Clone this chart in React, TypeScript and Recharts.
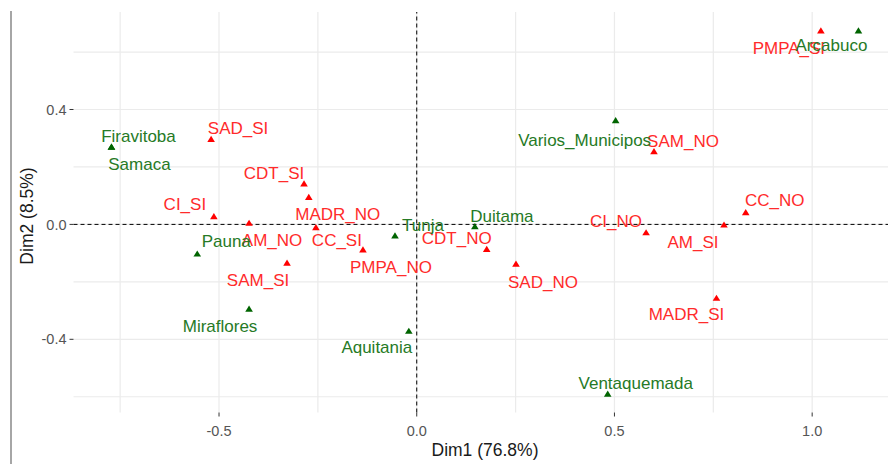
import { ScatterChart, Scatter, XAxis, YAxis, CartesianGrid, ReferenceLine } from 'recharts';

// column categories (red)
const colNames = ['SAD_SI', 'CDT_SI', 'MADR_NO', 'CI_SI', 'AM_NO', 'CC_SI', 'PMPA_NO', 'SAM_SI', 'CDT_NO', 'SAD_NO', 'CI_NO', 'AM_SI', 'CC_NO', 'MADR_SI', 'SAM_NO', 'PMPA_SI'];
const colDim1 = [-0.52, -0.285, -0.273, -0.513, -0.424, -0.255, -0.136, -0.328, 0.177, 0.251, 0.58, 0.777, 0.832, 0.758, 0.6, 1.022];
const colDim2 = [0.296, 0.141, 0.094, 0.027, 0.004, -0.011, -0.089, -0.135, -0.087, -0.138, -0.029, -0.002, 0.041, -0.257, 0.253, 0.674];

// row categories (green)
const rowNames = ['Firavitoba', 'Samaca', 'Varios_Municipos', 'Arcabuco', 'Duitama', 'Tunja', 'Pauna', 'Miraflores', 'Aquitania', 'Ventaquemada'];
const rowDim1 = [-0.772, -0.772, 0.503, 1.117, 0.147, -0.055, -0.555, -0.424, -0.02, 0.483];
const rowDim2 = [0.269, 0.269, 0.361, 0.674, -0.008, -0.04, -0.103, -0.295, -0.372, -0.591];

const xTicks = [-0.5, 0, 0.5, 1.0];
const yTicks = [-0.4, 0, 0.4];
const xGrid = [-0.75, -0.5, -0.25, 0, 0.25, 0.5, 0.75, 1.0];
const yGrid = [-0.6, -0.4, -0.2, 0, 0.2, 0.4, 0.6];

// repelled label placement (pixels from the point)
const labelOffset: Record<string, [number, number]> = {
  SAD_SI: [27, -11], CDT_SI: [-30, -11], MADR_NO: [29, 16], CI_SI: [-29, -13],
  AM_NO: [23, 17], CC_SI: [21, 12], PMPA_NO: [28, 17], SAM_SI: [-29, 17],
  CDT_NO: [-30, -12], SAD_NO: [27, 18], CI_NO: [-30, -12], AM_SI: [-31, 17],
  CC_NO: [29, -13], MADR_SI: [-30, 16], SAM_NO: [29, -11], PMPA_SI: [-32, 17],
  Firavitoba: [27, -11], Samaca: [28, 17], Varios_Municipos: [-31, 19], Arcabuco: [-27, 14],
  Duitama: [27, -11], Tunja: [28, -11], Pauna: [29, -13], Miraflores: [-29, 17],
  Aquitania: [-32, 16], Ventaquemada: [28, -11],
};

const colData = colNames.map((name, i) => ({ name, x: colDim1[i], y: colDim2[i] }));
const rowData = rowNames.map((name, i) => ({ name, x: rowDim1[i], y: rowDim2[i] }));

const font = 'Liberation Sans, Arial, sans-serif';

const makeShape = (fill: string, textFill: string) => (props: any) => {
  const { cx, cy, payload } = props;
  const [dx, dy] = labelOffset[payload.name] || [0, -12];
  return (
    <g>
      <polygon points={`${cx},${cy - 3.6} ${cx - 3.8},${cy + 2.6} ${cx + 3.8},${cy + 2.6}`} fill={fill} />
      <text x={cx + dx} y={cy + dy} dy="0.36em" textAnchor="middle" fontSize={17} fontFamily={font} fill={textFill}>
        {payload.name}
      </text>
    </g>
  );
};

const fmt = (v: number) => v.toFixed(1);

export default function App() {
  return (
    <div style={{ position: 'fixed', left: 0, top: 0, width: 888, height: 464, overflow: 'hidden', background: '#fff' }}>
      <div style={{ position: 'absolute', left: 10, top: 11, width: 1.5, height: 453, background: '#a6a6a6' }} />
      <ScatterChart width={900} height={464} margin={{ top: 12, right: 4, bottom: 0, left: 0 }}>
        <CartesianGrid stroke="#ebebeb" strokeWidth={1.2} verticalValues={xGrid} horizontalValues={yGrid} />
        <XAxis
          type="number"
          dataKey="x"
          domain={[-0.868, 1.212]}
          allowDataOverflow
          ticks={xTicks}
          tickFormatter={fmt}
          height={51.5}
          axisLine={false}
          tickSize={4}
          tickMargin={9}
          tickLine={{ stroke: '#333' }}
          tick={{ fill: '#555', fontSize: 14.5, fontFamily: font }}
        />
        <YAxis
          type="number"
          dataKey="y"
          domain={[-0.6548, 0.7394]}
          allowDataOverflow
          ticks={yTicks}
          tickFormatter={fmt}
          width={73.5}
          axisLine={false}
          tickSize={4}
          tickMargin={3}
          tickLine={{ stroke: '#333' }}
          tick={{ fill: '#555', fontSize: 14.5, fontFamily: font }}
        />
        <ReferenceLine x={0} stroke="#000" strokeDasharray="4 3" strokeWidth={1} />
        <ReferenceLine y={0} stroke="#000" strokeDasharray="4 3" strokeWidth={1} />
        <Scatter data={colData} shape={makeShape('#ff0000', '#ff2b2b')} isAnimationActive={false} />
        <Scatter data={rowData} shape={makeShape('#006400', '#267a26')} isAnimationActive={false} />
      </ScatterChart>
      <div style={{ position: 'absolute', left: 485, top: 451, transform: 'translate(-50%,-50%)', fontFamily: font, fontSize: 17.5, lineHeight: 1, color: '#1a1a1a', whiteSpace: 'nowrap' }}>
        Dim1 (76.8%)
      </div>
      <div style={{ position: 'absolute', left: 28, top: 216, transform: 'translate(-50%,-50%) rotate(-90deg)', fontFamily: font, fontSize: 17.5, lineHeight: 1, color: '#1a1a1a', whiteSpace: 'nowrap' }}>
        Dim2 (8.5%)
      </div>
    </div>
  );
}
